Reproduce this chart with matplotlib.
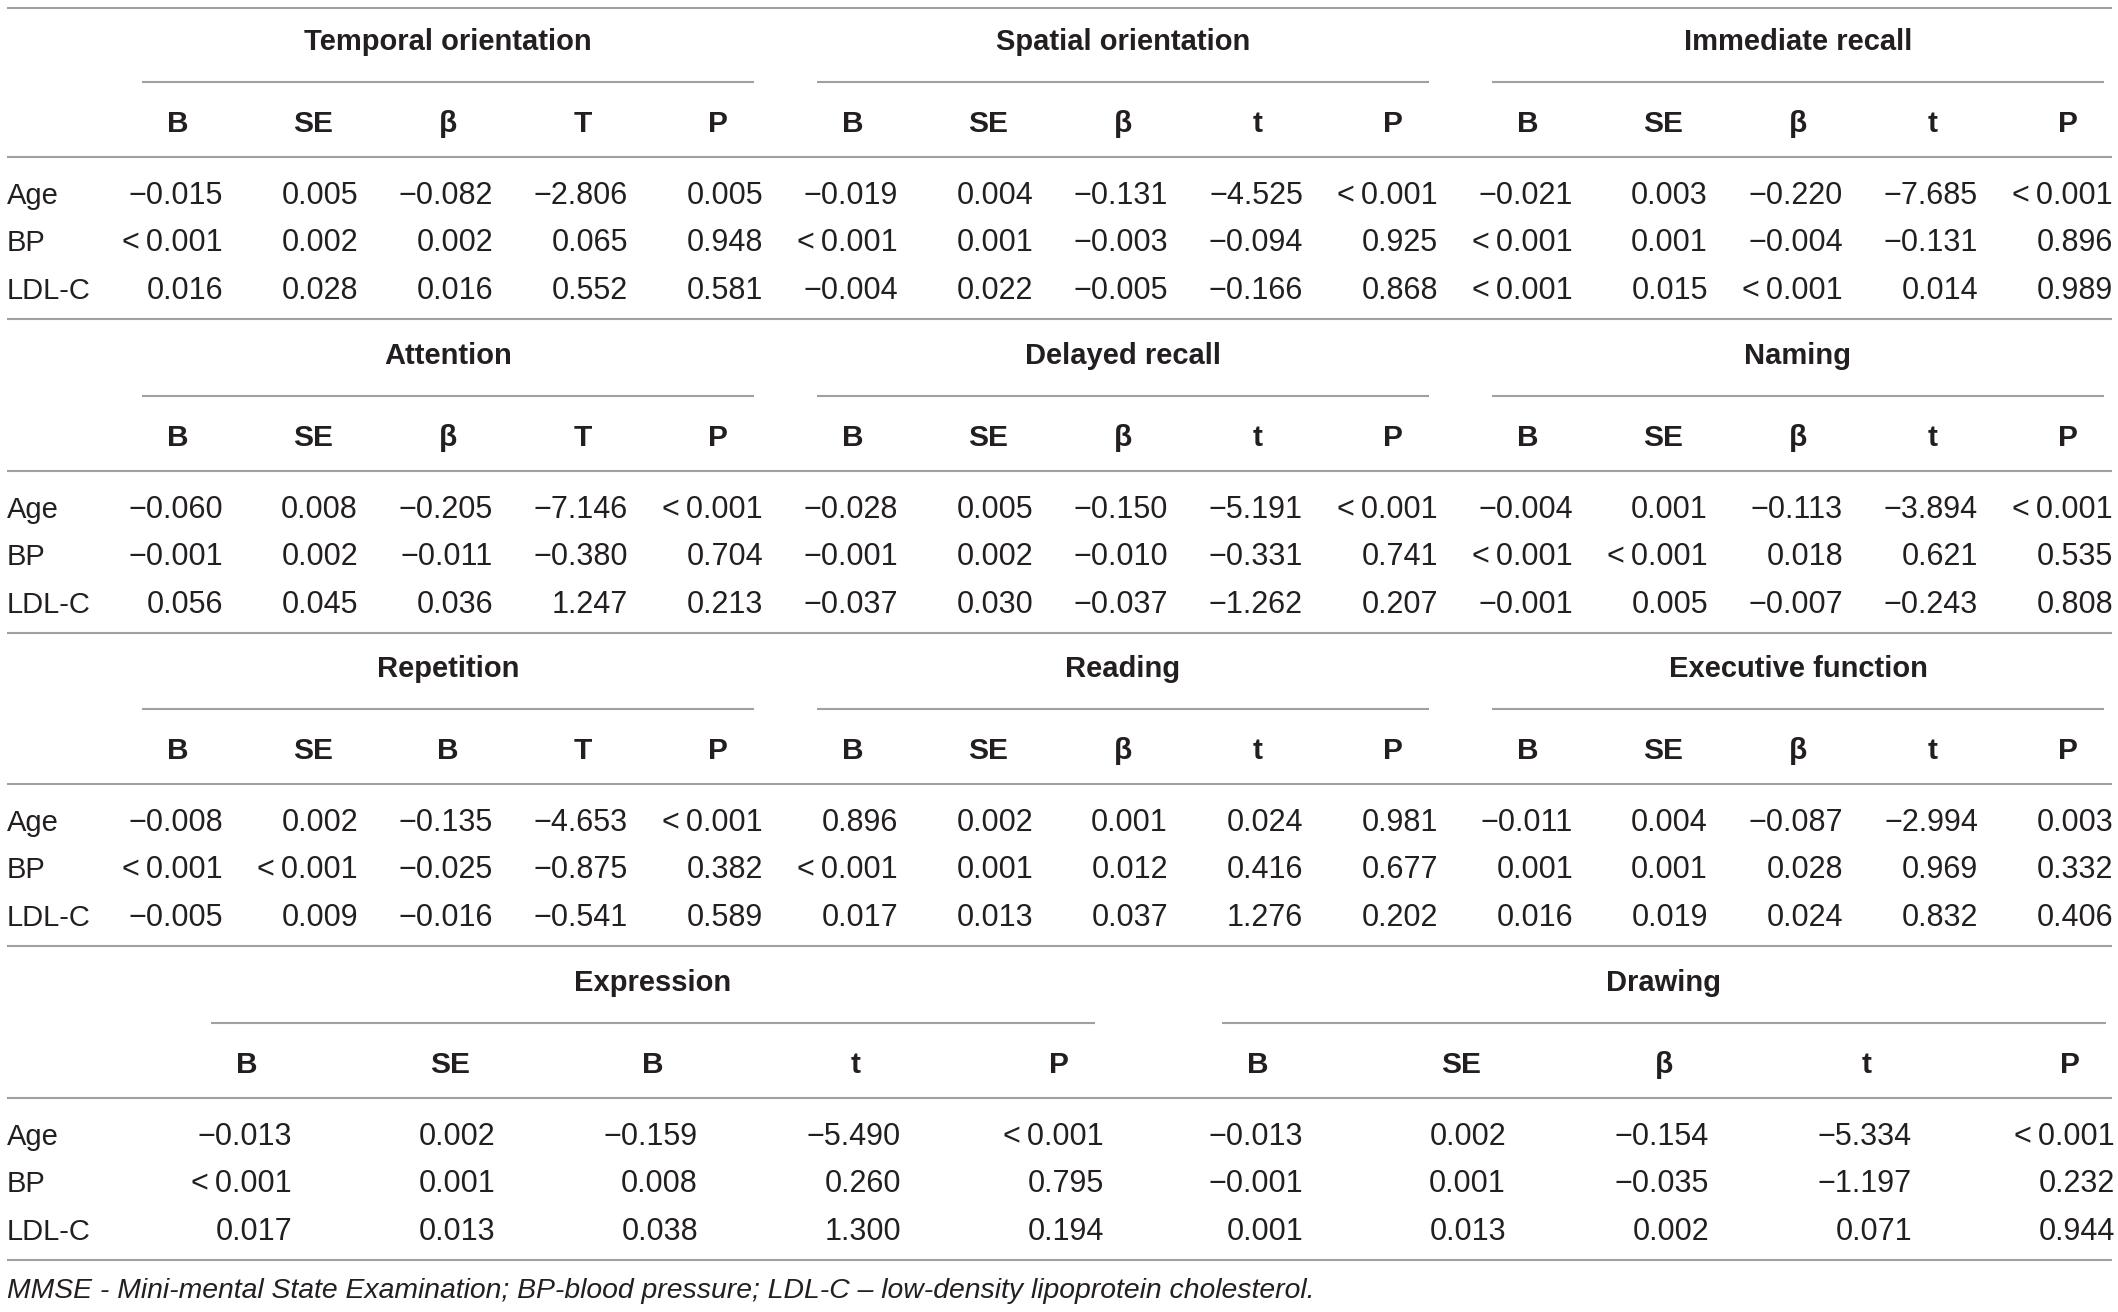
import matplotlib
matplotlib.use("Agg")
import matplotlib.pyplot as plt

# table content
row_labels = ["Age", "BP", "LDL-C"]

groups_1 = ["Temporal orientation", "Spatial orientation", "Immediate recall"]
heads_1 = [["B", "SE", "β", "T", "P"], ["B", "SE", "β", "t", "P"], ["B", "SE", "β", "t", "P"]]
rows_1 = [
    ["−0.015", "0.005", "−0.082", "−2.806", "0.005", "−0.019", "0.004", "−0.131", "−4.525", "<0.001",
     "−0.021", "0.003", "−0.220", "−7.685", "<0.001"],
    ["<0.001", "0.002", "0.002", "0.065", "0.948", "<0.001", "0.001", "−0.003", "−0.094", "0.925",
     "<0.001", "0.001", "−0.004", "−0.131", "0.896"],
    ["0.016", "0.028", "0.016", "0.552", "0.581", "−0.004", "0.022", "−0.005", "−0.166", "0.868",
     "<0.001", "0.015", "<0.001", "0.014", "0.989"],
]

groups_2 = ["Attention", "Delayed recall", "Naming"]
heads_2 = [["B", "SE", "β", "T", "P"], ["B", "SE", "β", "t", "P"], ["B", "SE", "β", "t", "P"]]
rows_2 = [
    ["−0.060", "0.008", "−0.205", "−7.146", "<0.001", "−0.028", "0.005", "−0.150", "−5.191", "<0.001",
     "−0.004", "0.001", "−0.113", "−3.894", "<0.001"],
    ["−0.001", "0.002", "−0.011", "−0.380", "0.704", "−0.001", "0.002", "−0.010", "−0.331", "0.741",
     "<0.001", "<0.001", "0.018", "0.621", "0.535"],
    ["0.056", "0.045", "0.036", "1.247", "0.213", "−0.037", "0.030", "−0.037", "−1.262", "0.207",
     "−0.001", "0.005", "−0.007", "−0.243", "0.808"],
]

groups_3 = ["Repetition", "Reading", "Executive function"]
heads_3 = [["B", "SE", "B", "T", "P"], ["B", "SE", "β", "t", "P"], ["B", "SE", "β", "t", "P"]]
rows_3 = [
    ["−0.008", "0.002", "−0.135", "−4.653", "<0.001", "0.896", "0.002", "0.001", "0.024", "0.981",
     "−0.011", "0.004", "−0.087", "−2.994", "0.003"],
    ["<0.001", "<0.001", "−0.025", "−0.875", "0.382", "<0.001", "0.001", "0.012", "0.416", "0.677",
     "0.001", "0.001", "0.028", "0.969", "0.332"],
    ["−0.005", "0.009", "−0.016", "−0.541", "0.589", "0.017", "0.013", "0.037", "1.276", "0.202",
     "0.016", "0.019", "0.024", "0.832", "0.406"],
]

groups_4 = ["Expression", "Drawing"]
heads_4 = [["B", "SE", "B", "t", "P"], ["B", "SE", "β", "t", "P"]]
rows_4 = [
    ["−0.013", "0.002", "−0.159", "−5.490", "<0.001", "−0.013", "0.002", "−0.154", "−5.334", "<0.001"],
    ["<0.001", "0.001", "0.008", "0.260", "0.795", "−0.001", "0.001", "−0.035", "−1.197", "0.232"],
    ["0.017", "0.013", "0.038", "1.300", "0.194", "0.001", "0.013", "0.002", "0.071", "0.944"],
]

footnote = ("MMSE - Mini-mental State Examination; BP-blood pressure; "
            "LDL-C – low-density lipoprotein cholesterol.")

W, H = 2118, 1312
TXT = "#231f20"
LINE = "#a0a0a0"
FONT = "Liberation Sans"

fig = plt.figure(figsize=(W / 100, H / 100), dpi=100)
ax = fig.add_axes([0, 0, 1, 1])
ax.set_xlim(0, W)
ax.set_ylim(H, 0)
ax.axis("off")


def hline(y, x0=7, x1=2112):
    ax.plot([x0, x1], [y, y], color=LINE, lw=1.5, solid_capstyle="butt")


def fmt(v):
    return v.replace("<", "<\u2009")


def draw_section(y0, groups, heads, rows, x0, col_step, grp_step):
    for g, name in enumerate(groups):
        centers = [x0 + g * grp_step + c * col_step for c in range(5)]
        ax.text((centers[0] + centers[-1]) / 2, y0 + 2, name, ha="center", va="center",
                fontsize=21, fontweight="bold", family=FONT, color=TXT)
        hline(y0 + 42, centers[0] - 36, min(centers[-1] + 36, 2112))
        for c, h in enumerate(heads[g]):
            ax.text(centers[c], y0 + 84, h, ha="center", va="center",
                    fontsize=21.5, fontweight="bold", family=FONT, color=TXT)
        for r, vals in enumerate(rows):
            for c in range(5):
                ax.text(centers[c] + 45, y0 + 156 + r * 47.3, fmt(vals[g * 5 + c]),
                        ha="right", va="center", fontsize=22, family=FONT, color=TXT)
    hline(y0 + 117)
    for r, lab in enumerate(row_labels):
        ax.text(7, y0 + 156 + r * 47.3, lab, ha="left", va="center",
                fontsize=21, family=FONT, color=TXT)
    hline(y0 + 279)


hline(8)
draw_section(40, groups_1, heads_1, rows_1, 178, 135, 675)
draw_section(354, groups_2, heads_2, rows_2, 178, 135, 675)
draw_section(667, groups_3, heads_3, rows_3, 178, 135, 675)
draw_section(981, groups_4, heads_4, rows_4, 247, 203, 1011)

ax.text(7, 1291, footnote, ha="left", va="center", fontsize=20.4, style="italic",
        family=FONT, color=TXT)

fig.savefig("out.png", dpi=100, facecolor="white")
